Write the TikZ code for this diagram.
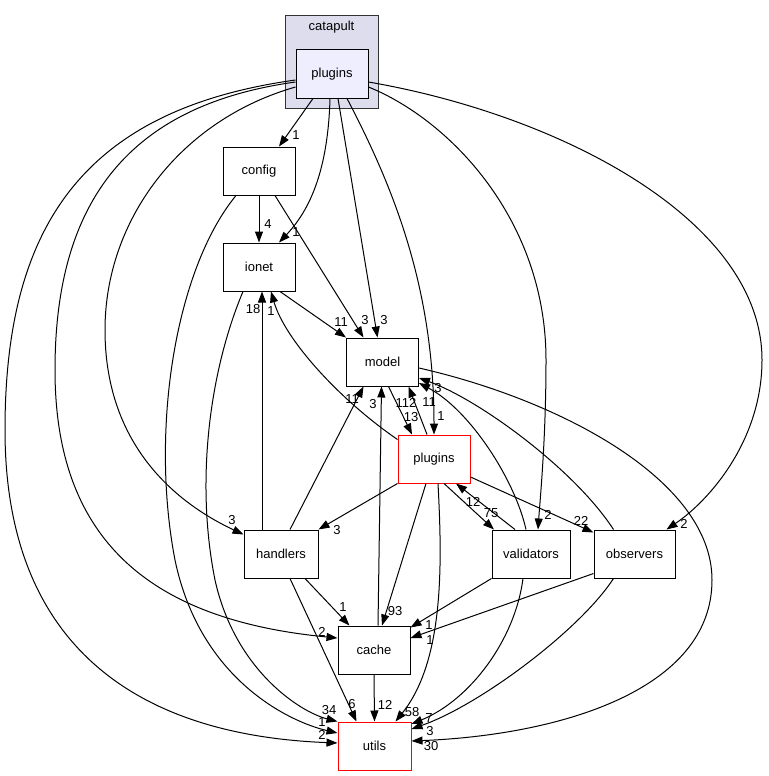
\documentclass[tikz,border=0pt]{standalone}
\usepackage{fontspec}
\setmainfont{Liberation Sans}
\usetikzlibrary{arrows.meta}
\definecolor{clfill}{HTML}{DDDDEE}
\definecolor{clline}{HTML}{333333}
\definecolor{infill}{HTML}{EEEEFF}
\begin{document}
\begin{tikzpicture}[x=1pt,y=-1pt,
  box/.style={draw=black, line width=1pt, minimum width=72pt, minimum height=48pt, inner sep=0pt, font=\fontsize{13}{15}\selectfont, fill=white},
  redbox/.style={box, draw=red},
  lbl/.style={font=\fontsize{13}{15}\selectfont, inner sep=0pt},
  edge/.style={draw=black, line width=1pt, -{Triangle[length=11pt,width=8pt]}},
]
\useasboundingbox (0,0) rectangle (768,776);
\fill[white] (0,0) rectangle (768,776);
% cluster
\draw[fill=clfill, draw=clline, line width=1pt] (285,16) rectangle (378,108);
\node[lbl] (catlbl) at (331.5,27) {catapult};
% nodes
\node[box, fill=infill] (Pt) at (332,74) {plugins};
\node[box] (config) at (259,171) {config};
\node[box] (ionet) at (259,267) {ionet};
\node[box] (model) at (382.5,362) {model};
\node[redbox] (plg) at (434,459) {plugins};
\node[box, minimum width=74pt] (handlers) at (281,554) {handlers};
\node[box, minimum width=78pt] (validators) at (531,554) {validators};
\node[box, minimum width=81pt] (observers) at (634.5,554) {observers};
\node[box] (cache) at (374,650) {cache};
\node[redbox, minimum width=73pt] (utils) at (374.5,746) {utils};

% edges from catapult/plugins
\draw[edge] ([xshift=-19pt]Pt.south) -- ([xshift=20pt]config.north);
\draw[edge] ([xshift=-2pt]Pt.south) .. controls (328,170) and (310,210) .. ([xshift=20pt]ionet.north);
\draw[edge] ([xshift=6pt]Pt.south) -- ([xshift=-5pt]model.north);
\draw[edge] ([xshift=15pt]Pt.south) .. controls (395,190) and (434,290) .. (plg.north);
\draw[edge] ([yshift=-13pt]Pt.east) .. controls (450,120) and (546,220) .. (546,360) .. controls (546,440) and (540,500) .. ([xshift=7pt]validators.north);
\draw[edge] ([yshift=-8pt]Pt.east) .. controls (560,115) and (762,220) .. (762,360) .. controls (762,440) and (710,500) .. ([xshift=32pt]observers.north);
\draw[edge] ([yshift=-13pt]Pt.west) .. controls (180,120) and (105,220) .. (105,330) .. controls (105,440) and (170,500) .. ([yshift=-5pt]handlers.north west);
\draw[edge] ([yshift=-8pt]Pt.west) .. controls (130,105) and (55,200) .. (55,370) .. controls (55,540) and (150,620) .. ([yshift=12pt]cache.west);
\draw[edge] ([yshift=-6pt]Pt.west) .. controls (80,110) and (5,230) .. (5,430) .. controls (5,640) and (130,735) .. ([yshift=3pt]utils.west);

% config
\draw[edge] (config.south) -- (ionet.north);
\draw[edge] ([xshift=16pt]config.south) -- ([xshift=-19pt]model.north);
\draw[edge] ([xshift=-23pt]config.south) .. controls (175,270) and (150,430) .. (175,560) .. controls (200,680) and (290,722) .. ([yshift=13pt]utils.west);

% ionet
\draw[edge] ([xshift=21pt]ionet.south) -- (model.north west);
\draw[edge] ([xshift=-16pt]ionet.south) .. controls (210,370) and (195,480) .. (215,580) .. controls (235,670) and (300,712) .. (utils.north west);

% model
\draw[edge] ([xshift=6pt]model.south) -- ([xshift=-22pt]plg.north);
\draw[edge] ([yshift=-6pt]model.east) .. controls (560,400) and (712,480) .. (712,580) .. controls (712,690) and (560,735) .. ([yshift=5pt]utils.east);

% red plugins
\draw[edge] ([xshift=-7pt]plg.north) -- ([xshift=26pt]model.south);
\draw[edge] ([yshift=-5pt]plg.north west) .. controls (340,400) and (285,340) .. ([xshift=12pt]ionet.south);
\draw[edge] (plg.south west) -- (handlers.north east);
\draw[edge] ([xshift=10pt]plg.south) -- ([xshift=-37pt]validators.north);
\draw[edge] ([yshift=-18pt]plg.east) -- ([yshift=-3pt]observers.north west);
\draw[edge] ([xshift=-8pt]plg.south) -- ([xshift=8pt]cache.north);
\draw[edge] ([xshift=4pt]plg.south) .. controls (442,560) and (445,660) .. ([xshift=21pt]utils.north);

% handlers
\draw[edge] ([xshift=-19pt]handlers.north) -- ([xshift=3pt]ionet.south);
\draw[edge] ([xshift=9pt]handlers.north) -- ([xshift=-19pt]model.south);
\draw[edge] ([xshift=24pt]handlers.south) -- ([xshift=12pt]cache.north west);
\draw[edge] ([xshift=9pt]handlers.south) -- ([xshift=-18pt]utils.north);

% validators
\draw[edge] ([xshift=-16pt]validators.north) -- ([xshift=22pt]plg.south);
\draw[edge] ([xshift=-5pt]validators.north) .. controls (515,480) and (470,410) .. ([yshift=-21pt]model.east);
\draw[edge] (validators.south west) -- ([yshift=-2pt]cache.north east);
\draw[edge] ([xshift=-8pt]validators.south) .. controls (515,640) and (470,700) .. ([yshift=22pt]utils.east);

% observers
\draw[edge] ([xshift=-21pt]observers.north) .. controls (575,470) and (480,400) .. ([yshift=-16pt]model.east);
\draw[edge] ([yshift=5pt]observers.south west) -- ([yshift=12pt]cache.east);
\draw[edge] ([xshift=-21pt]observers.south) .. controls (580,630) and (480,705) .. ([yshift=17pt]utils.east);

% cache
\draw[edge] ([xshift=4pt]cache.north) -- ([xshift=-1pt]model.south);
\draw[edge] (cache.south) -- (utils.north);

% edge labels
\node[lbl] (l01) at (296,135) {1};
\node[lbl] (l02) at (296,232) {1};
\node[lbl] (l03) at (384,320) {3};
\node[lbl] (l04) at (441,416) {1};
\node[lbl] (l05) at (548,515) {2};
\node[lbl] (l06) at (684,524) {2};
\node[lbl] (l07) at (232,520) {3};
\node[lbl] (l08) at (322,632) {2};
\node[lbl] (l09) at (322,735) {2};
\node[lbl] (l10) at (268,224) {4};
\node[lbl] (l11) at (365,320) {3};
\node[lbl] (l12) at (322,722) {1};
\node[lbl] (l13) at (341,322) {11};
\node[lbl] (l14) at (329,710) {34};
\node[lbl] (l15) at (411,417) {13};
\node[lbl] (l16) at (431,746) {30};
\node[lbl] (l17) at (406,403) {112};
\node[lbl] (l18) at (271,311) {1};
\node[lbl] (l19) at (337,530) {3};
\node[lbl] (l20) at (491,513) {75};
\node[lbl] (l21) at (581,521) {22};
\node[lbl] (l22) at (395,611) {93};
\node[lbl] (l23) at (412,712) {58};
\node[lbl] (l24) at (253,309) {18};
\node[lbl] (l25) at (352,399) {11};
\node[lbl] (l26) at (343,607) {1};
\node[lbl] (l27) at (352,704) {6};
\node[lbl] (l28) at (473,502) {12};
\node[lbl] (l29) at (429,402) {11};
\node[lbl] (l30) at (429,625) {1};
\node[lbl] (l31) at (429,718) {7};
\node[lbl] (l32) at (438,388) {3};
\node[lbl] (l33) at (430,640) {1};
\node[lbl] (l34) at (430,731) {3};
\node[lbl] (l35) at (373,404) {3};
\node[lbl] (l36) at (385,705) {12};
\end{tikzpicture}
\end{document}
